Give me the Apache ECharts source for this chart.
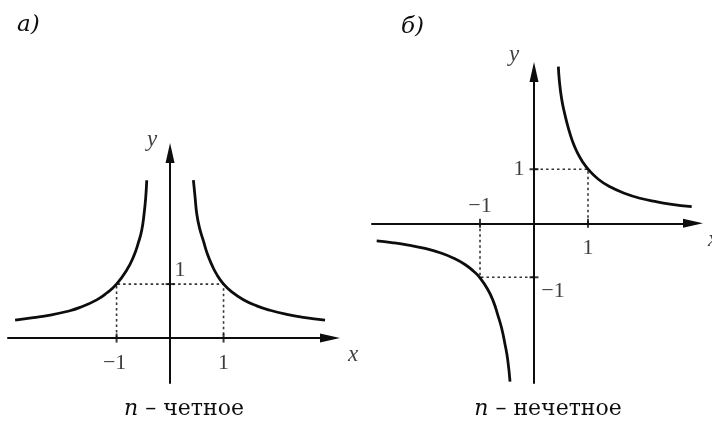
<!DOCTYPE html>
<html>
<head>
<meta charset="utf-8">
<script src="https://cdn.jsdelivr.net/npm/echarts@6/dist/echarts.min.js"></script>
<style>
  html, body { margin: 0; padding: 0; background: #ffffff; }
  #chart { width: 712px; height: 423px; }
</style>
</head>
<body>
<div id="chart"></div>
<script>
// ---- Panel а): n even (points read off the picture) ----
const evenLeftX  = [-2.897, -2.555, -2.243, -1.931, -1.682, -1.371, -1.184, -0.997, -0.810, -0.685, -0.592, -0.530, -0.486, -0.455, -0.436];
const evenLeftY  = [0.333, 0.377, 0.424, 0.492, 0.568, 0.708, 0.835, 1.005, 1.260, 1.505, 1.770, 2.000, 2.300, 2.610, 2.926];
const evenRightX = [0.436, 0.467, 0.498, 0.548, 0.623, 0.698, 0.779, 0.872, 0.997, 1.153, 1.371, 1.620, 1.869, 2.181, 2.492, 2.897];
const evenRightY = [2.926, 2.617, 2.309, 2.050, 1.800, 1.557, 1.360, 1.180, 1.005, 0.855, 0.710, 0.597, 0.515, 0.440, 0.385, 0.333];
const evenXTicks = [-1, 1];
const evenYTicks = [1];

// ---- Panel б): n odd ----
const oddLeftX  = [-2.913, -2.636, -2.327, -2.019, -1.710, -1.463, -1.278, -1.123, -1.000, -0.858, -0.753, -0.673, -0.599, -0.537, -0.488, -0.444];
const oddLeftY  = [-0.328, -0.358, -0.404, -0.466, -0.556, -0.659, -0.763, -0.885, -1.010, -1.222, -1.446, -1.690, -1.944, -2.240, -2.520, -2.930];
const oddRightX = [0.451, 0.469, 0.512, 0.568, 0.636, 0.710, 0.790, 0.895, 1.006, 1.191, 1.407, 1.685, 1.963, 2.241, 2.519, 2.920];
const oddRightY = [2.900, 2.640, 2.300, 2.030, 1.760, 1.525, 1.333, 1.145, 0.995, 0.815, 0.674, 0.552, 0.463, 0.403, 0.356, 0.308];
const oddXTicks = [-1, 1];
const oddYTicks = [1, -1];

// Texts
const panelLabels = ['а)', 'б)'];
const captions = ['четное', 'нечетное'];
const axisNames = ['x', 'y'];

const INK = '#0d0d0d';
const SERIF = '"Liberation Serif", "DejaVu Serif", serif';
const WIDE_SERIF = '"DejaVu Serif", "Liberation Serif", serif';

const zip = (xs, ys) => xs.map((x, i) => [x, ys[i]]);
const fmt = v => (v < 0 ? '\u2212' + Math.abs(v) : String(v));

function axis(gridIndex, min, max) {
  return {
    type: 'value', gridIndex, min, max,
    axisLine: { show: true, onZero: true, symbol: ['none', 'triangle'], symbolSize: [9, 20],
                lineStyle: { color: INK, width: 2 } },
    axisTick: { show: false }, axisLabel: { show: false }, splitLine: { show: false }
  };
}

function curve(idx, data) {
  return {
    type: 'line', xAxisIndex: idx, yAxisIndex: idx, data, smooth: 0.5,
    showSymbol: false, clip: false, silent: true,
    lineStyle: { color: INK, width: 2.8, join: 'round', cap: 'butt' }
  };
}
function guide(idx, data) {
  return {
    type: 'line', xAxisIndex: idx, yAxisIndex: idx, data, showSymbol: false, silent: true,
    lineStyle: { color: '#333', width: 1.6, type: [2.5, 3] }
  };
}
function ticks(idx, xt, yt) {
  const d = xt.map(v => ({ value: [v, 0], symbolSize: [2, 9] }))
    .concat(yt.map(v => ({ value: [0, v], symbolSize: [9, 2] })));
  return {
    type: 'scatter', xAxisIndex: idx, yAxisIndex: idx, data: d, symbol: 'rect',
    itemStyle: { color: INK }, silent: true, z: 5
  };
}
// text labels anchored to data coordinates; offsets are styling
function labels(idx, items) {
  return {
    type: 'scatter', xAxisIndex: idx, yAxisIndex: idx, symbolSize: 0, silent: true, clip: false,
    label: { show: true, position: 'inside', color: INK, fontFamily: SERIF, fontSize: 22 },
    data: items.map(it => ({
      value: it.at,
      label: {
        show: true, formatter: it.text, position: 'inside', offset: it.off,
        color: INK, fontFamily: SERIF, fontSize: it.size || 22,
        fontStyle: it.italic ? 'italic' : 'normal'
      }
    }))
  };
}

// ranges (data units)
const L = { xmin: -3.03, xmax: 2.99, ymin: -0.833, ymax: 3.43 };
const R = { xmin: -3.0, xmax: 2.944, ymin: -2.957, ymax: 2.80 };

const captionStyle = {
  fontFamily: WIDE_SERIF, fontWeight: 'normal', fontSize: 22, color: INK,
  rich: { i: { fontFamily: WIDE_SERIF, fontStyle: 'italic', fontSize: 22, color: INK } }
};
const panelStyle = { fontFamily: WIDE_SERIF, fontStyle: 'italic', fontWeight: 'normal', fontSize: 23, color: INK };

const option = {
  backgroundColor: '#ffffff',
  animation: false,
  grid: [
    { left: 8, right: 382, top: 153, bottom: 40 },
    { left: 372, right: 19, top: 72, bottom: 40 }
  ],
  xAxis: [axis(0, L.xmin, L.xmax), axis(1, R.xmin, R.xmax)],
  yAxis: [axis(0, L.ymin, L.ymax), axis(1, R.ymin, R.ymax)],
  title: [
    { text: panelLabels[0], left: 12, top: 9, textStyle: panelStyle },
    { text: panelLabels[1], left: 396, top: 11, textStyle: panelStyle },
    { text: '{i|n} \u2013 ' + captions[0], left: 179, top: 393, textAlign: 'center', textStyle: captionStyle },
    { text: '{i|n} \u2013 ' + captions[1], left: 543, top: 393, textAlign: 'center', textStyle: captionStyle }
  ],
  series: [
    guide(0, [[-1, 0], [-1, 1], [1, 1], [1, 0]]),
    curve(0, zip(evenLeftX, evenLeftY)),
    curve(0, zip(evenRightX, evenRightY)),
    ticks(0, evenXTicks, evenYTicks),
    labels(0, [
      { at: [evenXTicks[0], 0], text: fmt(evenXTicks[0]), off: [-2, 25] },
      { at: [evenXTicks[1], 0], text: fmt(evenXTicks[1]), off: [0, 25] },
      { at: [0, evenYTicks[0]], text: fmt(evenYTicks[0]), off: [10, -14] },
      { at: [L.xmax, 0], text: axisNames[0], off: [23, 17], italic: true, size: 23 },
      { at: [0, L.ymax], text: axisNames[1], off: [-18, -13], italic: true, size: 23 }
    ]),

    guide(1, [[1, 0], [1, 1], [0, 1]]),
    guide(1, [[-1, 0], [-1, -1], [0, -1]]),
    curve(1, zip(oddLeftX, oddLeftY)),
    curve(1, zip(oddRightX, oddRightY)),
    ticks(1, oddXTicks, oddYTicks),
    labels(1, [
      { at: [oddXTicks[0], 0], text: fmt(oddXTicks[0]), off: [0, -17] },
      { at: [oddXTicks[1], 0], text: fmt(oddXTicks[1]), off: [0, 25] },
      { at: [0, oddYTicks[0]], text: fmt(oddYTicks[0]), off: [-15, 0] },
      { at: [0, oddYTicks[1]], text: fmt(oddYTicks[1]), off: [19, 14] },
      { at: [R.xmax, 0], text: axisNames[0], off: [20, 17], italic: true, size: 23 },
      { at: [0, R.ymax], text: axisNames[1], off: [-20, -17], italic: true, size: 23 }
    ])
  ]
};

const chart = echarts.init(document.getElementById('chart'), null, { renderer: 'canvas' });
chart.setOption(option);
</script>
</body>
</html>
